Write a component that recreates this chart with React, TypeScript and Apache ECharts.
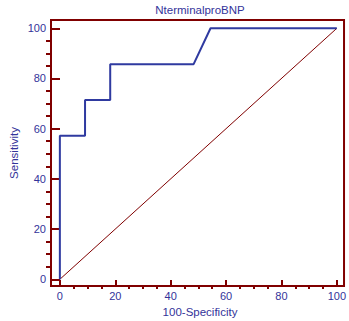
import React, { useEffect, useRef } from "react";
import * as echarts from "echarts";

const chartTitle = "NterminalproBNP";
const xAxisTitle = "100-Specificity";
const yAxisTitle = "Sensitivity";

const rocX = [0, 0, 9.09, 9.09, 18.18, 18.18, 48.3, 54.4, 100];
const rocY = [0, 57.14, 57.14, 71.43, 71.43, 85.71, 85.71, 100, 100];
const diagX = [0, 100];
const diagY = [0, 100];

const majorTicks = [0, 20, 40, 60, 80, 100];
const minorTicks = [5, 10, 15, 25, 30, 35, 45, 50, 55, 65, 70, 75, 85, 90, 95];

const MAROON = "#800000";
const BLUE = "#33339a";
const LINE_BLUE = "#2f3aa0";
const FONT = "Liberation Sans, Arial, sans-serif";

const X_MIN = -3.2, X_MAX = 102.6, Y_MIN = -2.67, Y_MAX = 103.3;

export default function App() {
  const ref = useRef<HTMLDivElement>(null);
  useEffect(() => {
    if (!ref.current) return;
    const chart = echarts.init(ref.current, undefined, { renderer: "svg" });

    const label = (margin: number) => ({
      show: true,
      margin,
      color: BLUE,
      fontSize: 11,
      fontFamily: FONT,
      customValues: majorTicks,
      formatter: (v: number) => String(Math.round(v)),
    });
    const tick = (len: number, values: number[]) => ({
      show: true,
      inside: true,
      length: len,
      lineStyle: { color: MAROON, width: 2 },
      customValues: values,
    });
    // helper axes (index 1) span 0..1 so that their zero lies on the frame edge
    const helper = { type: "value", min: 0, max: 1, show: false };

    chart.setOption({
      animation: false,
      grid: {
        left: 51,
        right: 1,
        top: 20,
        bottom: 35,
        show: true,
        borderColor: MAROON,
        borderWidth: 2,
      },
      xAxis: [
        {
          type: "value",
          min: X_MIN,
          max: X_MAX,
          splitLine: { show: false },
          axisLine: { show: false, onZero: true, onZeroAxisIndex: 1 },
          axisTick: tick(6, majorTicks),
          axisLabel: label(4),
        },
        helper,
        {
          type: "value",
          min: X_MIN,
          max: X_MAX,
          splitLine: { show: false },
          axisLine: { show: false, onZero: true, onZeroAxisIndex: 1 },
          axisTick: tick(3, minorTicks),
          axisLabel: { show: false },
        },
      ],
      yAxis: [
        {
          type: "value",
          min: Y_MIN,
          max: Y_MAX,
          splitLine: { show: false },
          axisLine: { show: false, onZero: true, onZeroAxisIndex: 1 },
          axisTick: tick(9, majorTicks),
          axisLabel: label(5),
        },
        helper,
        {
          type: "value",
          min: Y_MIN,
          max: Y_MAX,
          splitLine: { show: false },
          axisLine: { show: false, onZero: true, onZeroAxisIndex: 1 },
          axisTick: tick(5, minorTicks),
          axisLabel: { show: false },
        },
      ],
      series: [
        {
          type: "line",
          xAxisIndex: 0,
          yAxisIndex: 0,
          data: diagX.map((x, i) => [x, diagY[i]]),
          showSymbol: false,
          lineStyle: { color: MAROON, width: 1 },
          z: 2,
        },
        {
          type: "line",
          xAxisIndex: 0,
          yAxisIndex: 0,
          data: rocX.map((x, i) => [x, rocY[i]]),
          showSymbol: false,
          lineStyle: { color: LINE_BLUE, width: 2 },
          z: 3,
        },
      ],
      graphic: [
        {
          type: "text",
          x: 200,
          y: 10,
          style: { text: chartTitle, fill: BLUE, fontSize: 11.5, fontFamily: FONT, align: "center", verticalAlign: "middle" },
        },
        {
          type: "text",
          x: 200,
          y: 312,
          style: { text: xAxisTitle, fill: BLUE, fontSize: 11.5, fontFamily: FONT, align: "center", verticalAlign: "middle" },
        },
        {
          type: "text",
          x: 14,
          y: 153,
          rotation: Math.PI / 2,
          style: { text: yAxisTitle, fill: BLUE, fontSize: 11.5, fontFamily: FONT, align: "center", verticalAlign: "middle" },
        },
      ],
    });

    return () => chart.dispose();
  }, []);
  return <div ref={ref} style={{ width: 349, height: 321, position: "absolute", left: 0, top: 0 }} />;
}
